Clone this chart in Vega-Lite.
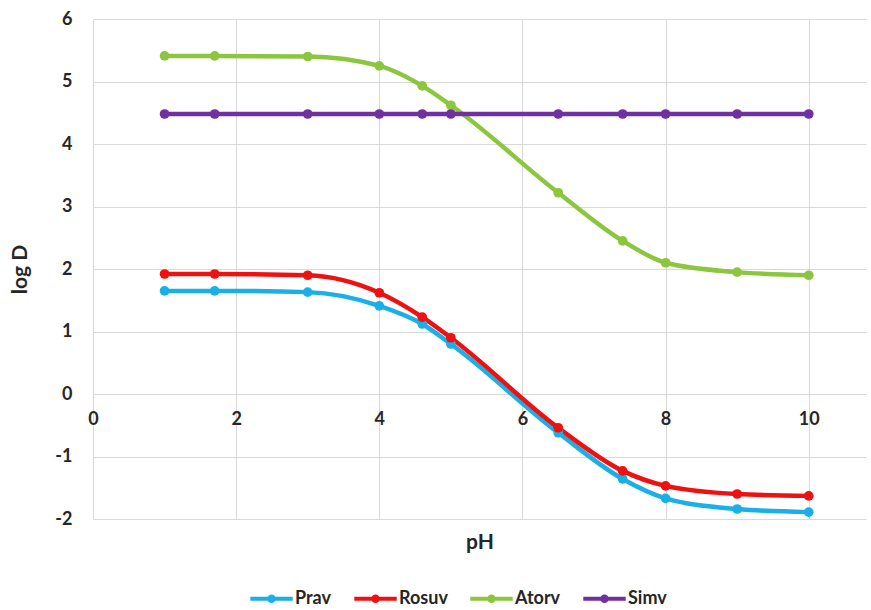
{
  "$schema": "https://vega.github.io/schema/vega-lite/v6.json",
  "autosize": {"type": "none"},
  "width": 773,
  "height": 500,
  "padding": {"left": 93, "top": 19, "right": 5, "bottom": 91},
  "background": "white",
  "config": {
    "font": "Lato",
    "view": {"stroke": null},
    "axis": {"gridColor": "#d9d9d9", "gridWidth": 1, "labelColor": "#262626", "titleColor": "#262626"}
  },
  "data": {"values": [
    {"pH": 1, "logD": 1.65, "drug": "Prav"},
    {"pH": 1.7, "logD": 1.65, "drug": "Prav"},
    {"pH": 3, "logD": 1.63, "drug": "Prav"},
    {"pH": 4, "logD": 1.41, "drug": "Prav"},
    {"pH": 4.6, "logD": 1.12, "drug": "Prav"},
    {"pH": 5, "logD": 0.8, "drug": "Prav"},
    {"pH": 6.5, "logD": -0.62, "drug": "Prav"},
    {"pH": 7.4, "logD": -1.36, "drug": "Prav"},
    {"pH": 8, "logD": -1.67, "drug": "Prav"},
    {"pH": 9, "logD": -1.84, "drug": "Prav"},
    {"pH": 10, "logD": -1.89, "drug": "Prav"},
    {"pH": 1, "logD": 1.92, "drug": "Rosuv"},
    {"pH": 1.7, "logD": 1.92, "drug": "Rosuv"},
    {"pH": 3, "logD": 1.9, "drug": "Rosuv"},
    {"pH": 4, "logD": 1.62, "drug": "Rosuv"},
    {"pH": 4.6, "logD": 1.23, "drug": "Rosuv"},
    {"pH": 5, "logD": 0.9, "drug": "Rosuv"},
    {"pH": 6.5, "logD": -0.54, "drug": "Rosuv"},
    {"pH": 7.4, "logD": -1.23, "drug": "Rosuv"},
    {"pH": 8, "logD": -1.47, "drug": "Rosuv"},
    {"pH": 9, "logD": -1.6, "drug": "Rosuv"},
    {"pH": 10, "logD": -1.63, "drug": "Rosuv"},
    {"pH": 1, "logD": 5.41, "drug": "Atorv"},
    {"pH": 1.7, "logD": 5.41, "drug": "Atorv"},
    {"pH": 3, "logD": 5.4, "drug": "Atorv"},
    {"pH": 4, "logD": 5.25, "drug": "Atorv"},
    {"pH": 4.6, "logD": 4.93, "drug": "Atorv"},
    {"pH": 5, "logD": 4.62, "drug": "Atorv"},
    {"pH": 6.5, "logD": 3.22, "drug": "Atorv"},
    {"pH": 7.4, "logD": 2.45, "drug": "Atorv"},
    {"pH": 8, "logD": 2.1, "drug": "Atorv"},
    {"pH": 9, "logD": 1.95, "drug": "Atorv"},
    {"pH": 10, "logD": 1.9, "drug": "Atorv"},
    {"pH": 1, "logD": 4.48, "drug": "Simv"},
    {"pH": 1.7, "logD": 4.48, "drug": "Simv"},
    {"pH": 3, "logD": 4.48, "drug": "Simv"},
    {"pH": 4, "logD": 4.48, "drug": "Simv"},
    {"pH": 4.6, "logD": 4.48, "drug": "Simv"},
    {"pH": 5, "logD": 4.48, "drug": "Simv"},
    {"pH": 6.5, "logD": 4.48, "drug": "Simv"},
    {"pH": 7.4, "logD": 4.48, "drug": "Simv"},
    {"pH": 8, "logD": 4.48, "drug": "Simv"},
    {"pH": 9, "logD": 4.48, "drug": "Simv"},
    {"pH": 10, "logD": 4.48, "drug": "Simv"}
  ]},
  "mark": {"type": "line", "strokeWidth": 4.5, "interpolate": "monotone", "point": {"filled": true, "size": 95, "opacity": 1}},
  "encoding": {
    "x": {
      "field": "pH", "type": "quantitative",
      "scale": {"domain": [0, 10.8], "nice": false, "zero": false},
      "axis": {
        "title": "pH", "values": [0, 2, 4, 6, 8, 10], "offset": -125,
        "domain": false, "ticks": false, "tickSize": 0,
        "labelFontSize": 18, "labelFontWeight": "bold", "labelPadding": 16, "labelFlush": false,
        "titleFontSize": 21, "titleFontWeight": "bold", "titlePadding": 103
      }
    },
    "y": {
      "field": "logD", "type": "quantitative",
      "scale": {"domain": [-2, 6], "nice": false, "zero": false},
      "axis": {
        "title": "log D", "values": [-2, -1, 0, 1, 2, 3, 4, 5, 6],
        "labelExpr": "replace(datum.label, '\u2212', '-')",
        "domain": false, "ticks": false, "tickSize": 0,
        "labelFontSize": 18, "labelFontWeight": "bold", "labelPadding": 21,
        "titleFontSize": 21, "titleFontWeight": "bold", "titlePadding": 24
      }
    },
    "color": {
      "field": "drug", "type": "nominal",
      "scale": {"domain": ["Prav", "Rosuv", "Atorv", "Simv"], "range": ["#1aafe6", "#ee1111", "#8cc63e", "#7030a0"]},
      "legend": {
        "title": null, "orient": "none", "direction": "horizontal", "legendX": 157, "legendY": 558,
        "symbolType": "M-1,-0.1H1V0.1H-1Z M0.2,0A0.2,0.2 0 1,1 -0.2,0A0.2,0.2 0 1,1 0.2,0Z",
        "symbolSize": 1800, "symbolStrokeWidth": 0, "symbolOpacity": 1,
        "labelFontSize": 18, "labelFontWeight": "bold", "labelColor": "#262626", "labelOffset": 2,
        "columnPadding": 22
      }
    }
  }
}
